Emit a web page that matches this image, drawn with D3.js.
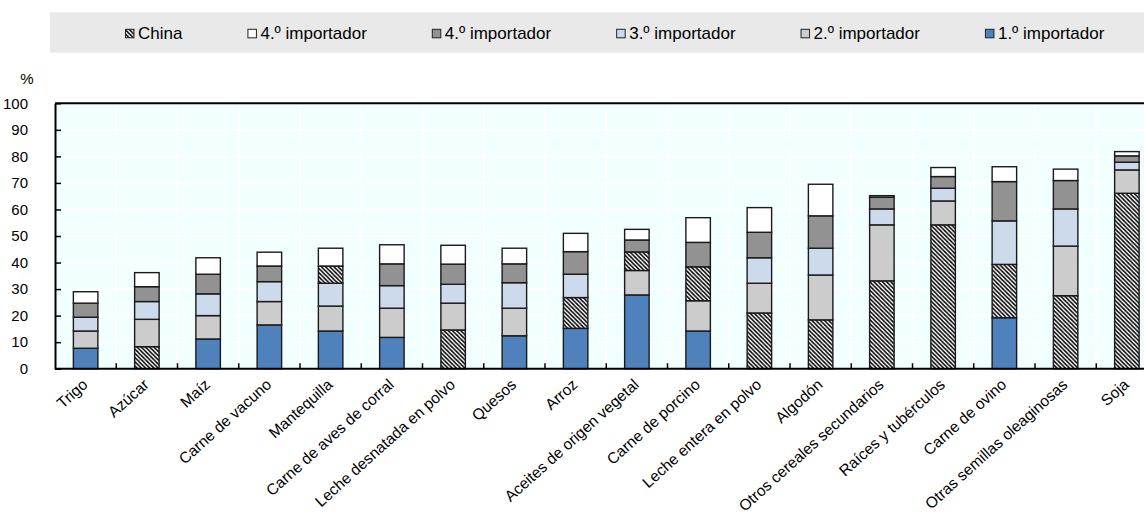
<!DOCTYPE html>
<html>
<head>
<meta charset="utf-8">
<script src="https://cdn.jsdelivr.net/npm/d3@7/dist/d3.min.js"></script>
<style>
  body { margin: 0; background: #ffffff; }
  svg { display: block; font-family: "Liberation Sans", Arial, sans-serif; }
</style>
</head>
<body>
<svg id="chart" width="1144" height="522"></svg>
<script>
// Products, ordered by the combined share of the top importers
const categories = [
  "Trigo", "Azúcar", "Maíz", "Carne de vacuno", "Mantequilla",
  "Carne de aves de corral", "Leche desnatada en polvo", "Quesos", "Arroz",
  "Aceites de origen vegetal", "Carne de porcino", "Leche entera en polvo",
  "Algodón", "Otros cereales secundarios", "Raíces y tubérculos",
  "Carne de ovino", "Otras semillas oleaginosas", "Soja"
];

// Share of world imports (%) held by each importer rank
const rank1 = [7.7, 8.3, 11.2, 16.5, 14.2, 11.8, 14.6, 12.4, 15.2, 27.8, 14.2, 21.0, 18.4, 33.1, 54.2, 19.2, 27.5, 66.1];
const rank2 = [6.5, 10.3, 8.8, 8.8, 9.4, 11.0, 10.1, 10.4, 11.6, 9.2, 11.4, 11.2, 16.9, 21.1, 9.0, 20.1, 18.7, 8.8];
const rank3 = [5.2, 6.7, 8.2, 7.5, 8.6, 8.5, 7.1, 9.6, 8.8, 7.0, 12.8, 9.6, 10.1, 6.0, 4.8, 16.4, 14.0, 2.9];
const rank4 = [5.3, 5.6, 7.4, 5.9, 6.5, 8.2, 7.6, 7.1, 8.5, 4.5, 9.2, 9.6, 12.2, 4.4, 4.4, 14.8, 10.7, 2.4];
const rank5 = [4.3, 5.3, 6.2, 5.2, 6.7, 7.2, 7.1, 5.9, 6.9, 4.0, 9.3, 9.3, 11.9, 0.6, 3.4, 5.6, 4.3, 1.6];

// Rank held by China for each product (0 = not among the top importers)
const chinaRank = [0, 1, 0, 0, 4, 0, 1, 0, 2, 3, 3, 1, 1, 1, 1, 2, 1, 1];

// Legend entries, left to right
const legendLabels = ["China", "4.º importador", "4.º importador", "3.º importador", "2.º importador", "1.º importador"];
const legendKeys = ["china", "r5", "r4", "r3", "r2", "r1"];

const yTicks = [0, 10, 20, 30, 40, 50, 60, 70, 80, 90, 100];

const fills = {
  r1: "#4f81bd",
  r2: "#cccccc",
  r3: "#ccdaec",
  r4: "#929292",
  r5: "#ffffff",
  china: "url(#hatch)"
};

const svg = d3.select("#chart");
const W = 1144, H = 522;
const plot = { left: 55, right: 1157.5, top: 103.3, bottom: 368.7 };

// Diagonal hatching used for China
const defs = svg.append("defs");
const pat = defs.append("pattern")
  .attr("id", "hatch")
  .attr("patternUnits", "userSpaceOnUse")
  .attr("width", 4.2).attr("height", 4.2);
pat.append("rect").attr("width", 4.2).attr("height", 4.2).attr("fill", "#ffffff");
pat.append("path")
  .attr("d", "M-1,-1 L5.2,5.2 M-1,3.2 L1,5.2 M3.2,-1 L5.2,1")
  .attr("stroke", "#000000").attr("stroke-width", 1.5);

// Scales
const x = d3.scaleBand()
  .domain(categories)
  .range([plot.left, plot.right])
  .paddingInner(0.6)
  .paddingOuter(0.3);

const y = d3.scaleLinear().domain([0, 100]).range([plot.bottom, plot.top]);

// Legend band
svg.append("rect")
  .attr("x", 50).attr("y", 12.3)
  .attr("width", W - 50).attr("height", 40.4)
  .attr("fill", "#e9e9e9");

const legend = svg.append("g");
let cursor = 125;
legendKeys.forEach((k, i) => {
  const g = legend.append("g").attr("transform", `translate(${cursor},0)`);
  g.append("rect")
    .attr("x", 0.5).attr("y", 29.3)
    .attr("width", 8.5).attr("height", 8.5)
    .attr("fill", fills[k])
    .attr("stroke", "#222222").attr("stroke-width", 1);
  const t = g.append("text")
    .attr("x", 13).attr("y", 39)
    .attr("font-size", 17)
    .attr("fill", "#000000")
    .text(legendLabels[i]);
  cursor += 13 + t.node().getComputedTextLength() + 65;
});

// Plot background
svg.append("rect")
  .attr("x", plot.left).attr("y", plot.top)
  .attr("width", plot.right - plot.left).attr("height", plot.bottom - plot.top)
  .attr("fill", "#f2ffff");

// Gridlines
svg.append("g")
  .selectAll("line")
  .data(yTicks.filter(d => d > 0 && d < 100))
  .join("line")
  .attr("x1", plot.left).attr("x2", plot.right)
  .attr("y1", d => y(d)).attr("y2", d => y(d))
  .attr("stroke", "#ffffff").attr("stroke-width", 1.5);

const step = x.step();
const boundaries = d3.range(1, categories.length).map(i => plot.left + i * step);
svg.append("g")
  .selectAll("line")
  .data(boundaries)
  .join("line")
  .attr("x1", d => d).attr("x2", d => d)
  .attr("y1", plot.top).attr("y2", plot.bottom)
  .attr("stroke", "#ffffff").attr("stroke-width", 1.5);

// Stacked segments: ranks 1..5 from the bottom, China hatched at its own rank
const ranks = [rank1, rank2, rank3, rank4, rank5];
const segments = [];
categories.forEach((c, i) => {
  let base = 0;
  ranks.forEach((arr, r) => {
    const v = arr[i];
    const key = chinaRank[i] === r + 1 ? "china" : "r" + (r + 1);
    segments.push({ cat: c, y0: base, y1: base + v, key });
    base += v;
  });
});

svg.append("g")
  .selectAll("rect")
  .data(segments)
  .join("rect")
  .attr("x", d => x(d.cat))
  .attr("width", x.bandwidth())
  .attr("y", d => y(d.y1))
  .attr("height", d => y(d.y0) - y(d.y1))
  .attr("fill", d => fills[d.key])
  .attr("stroke", "#1a1a1a")
  .attr("stroke-width", 1.4);

// Frame: top border, y axis, baseline
svg.append("line")
  .attr("x1", plot.left).attr("x2", plot.right)
  .attr("y1", plot.top).attr("y2", plot.top)
  .attr("stroke", "#000000").attr("stroke-width", 2);

const yAxis = d3.axisLeft(y).tickValues(yTicks).tickSize(-6).tickPadding(27).tickSizeOuter(0);
const yg = svg.append("g").attr("transform", `translate(${plot.left},0)`).call(yAxis);
yg.select(".domain").attr("stroke", "#000000").attr("stroke-width", 2);
yg.selectAll(".tick line").attr("stroke", "#000000").attr("stroke-width", 1.5);
yg.selectAll(".tick text")
  .attr("font-family", "Liberation Sans, Arial, sans-serif")
  .attr("font-size", 15).attr("fill", "#000000");

svg.append("text")
  .attr("x", 27).attr("y", 84)
  .attr("text-anchor", "middle")
  .attr("font-size", 15)
  .text("%");

// X axis baseline with ticks between categories
svg.append("line")
  .attr("x1", plot.left).attr("x2", plot.right)
  .attr("y1", plot.bottom).attr("y2", plot.bottom)
  .attr("stroke", "#000000").attr("stroke-width", 2);

svg.append("g")
  .selectAll("line")
  .data(boundaries)
  .join("line")
  .attr("x1", d => d).attr("x2", d => d)
  .attr("y1", plot.bottom).attr("y2", plot.bottom - 5.5)
  .attr("stroke", "#000000").attr("stroke-width", 1.5);

// Category labels, rotated
svg.append("g")
  .selectAll("text")
  .data(categories)
  .join("text")
  .attr("transform", d => `translate(${x(d) + x.bandwidth() / 2 + 3},386) rotate(-42)`)
  .attr("text-anchor", "end")
  .attr("font-size", 15.5)
  .attr("fill", "#000000")
  .text(d => d);
</script>
</body>
</html>
